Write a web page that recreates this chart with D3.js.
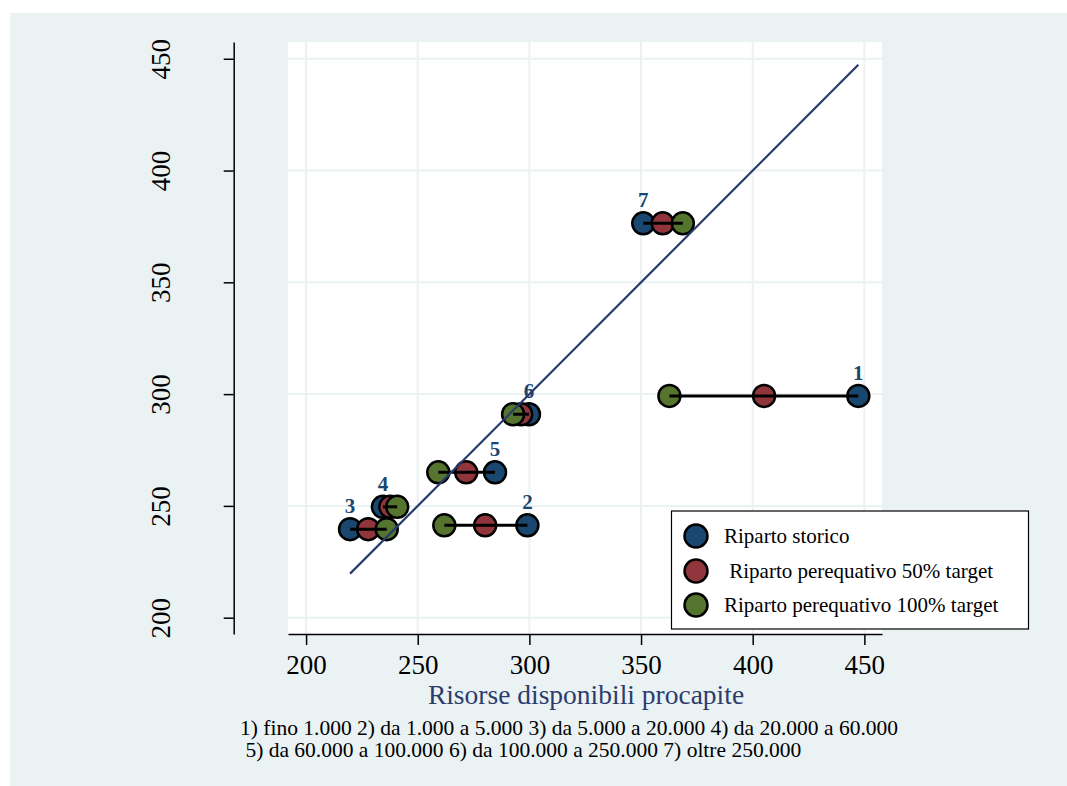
<!DOCTYPE html>
<html><head><meta charset="utf-8">
<script src="https://cdn.jsdelivr.net/npm/d3@7"></script>
<style>
html,body{margin:0;padding:0;background:#fff;}
svg{display:block;}
text{font-family:"Liberation Serif","Times New Roman",serif;}
</style></head>
<body><svg id="chart" width="1067" height="786"></svg>
<script>
// ---- data ----
const groups = ["1","2","3","4","5","6","7"];
const yValues = [299.2, 241.3, 239.6, 249.6, 265.0, 291.0, 376.4];
const storico = [447.3, 299.1, 219.7, 234.4, 284.6, 299.8, 351.0];
const pereq50 = [405.1, 280.2, 227.8, 237.7, 271.7, 296.3, 359.7];
const pereq100 = [362.7, 261.9, 236.1, 240.8, 259.2, 292.7, 368.7];
const xTicks = [200, 250, 300, 350, 400, 450];
const yTicks = [200, 250, 300, 350, 400, 450];
const seriesNames = ["Riparto storico", " Riparto perequativo 50% target", "Riparto perequativo 100% target"];
const seriesColors = ["#1a476f", "#90353b", "#55752f"];
const xTitle = "Risorse disponibili procapite";
const noteLines = ["1) fino 1.000 2) da 1.000 a 5.000 3) da 5.000 a 20.000 4) da 20.000 a 60.000",
                   " 5) da 60.000 a 100.000 6) da 100.000 a 250.000 7) oltre 250.000"];

const svg = d3.select("#chart");
const W = 1067, H = 786;
const plot = {left: 288, right: 882, top: 42, bottom: 634};

svg.append("rect").attr("x", 10).attr("y", 13).attr("width", W - 10).attr("height", H - 13).attr("fill", "#eaf2f3");
svg.append("rect").attr("x", plot.left).attr("y", plot.top)
   .attr("width", plot.right - plot.left).attr("height", plot.bottom - plot.top).attr("fill", "#fff");

const x = d3.scaleLinear().domain([191.9, 457.9]).range([plot.left, plot.right]);
const y = d3.scaleLinear().domain([192.7, 457.5]).range([plot.bottom, plot.top]);

// grid
svg.append("g").selectAll("line").data(xTicks).join("line")
  .attr("x1", d => x(d)).attr("x2", d => x(d)).attr("y1", plot.top).attr("y2", plot.bottom)
  .attr("stroke", "#eaf2f3").attr("stroke-width", 2);
svg.append("g").selectAll("line").data(yTicks).join("line")
  .attr("y1", d => y(d)).attr("y2", d => y(d)).attr("x1", plot.left).attr("x2", plot.right)
  .attr("stroke", "#eaf2f3").attr("stroke-width", 2);

// axes
const xAxis = svg.append("g").attr("transform", `translate(0,${plot.bottom})`)
  .call(d3.axisBottom(x).tickValues(xTicks).tickSize(11).tickSizeOuter(0).tickPadding(6));
xAxis.select(".domain").attr("stroke", "#000").attr("stroke-width", 1.5);
xAxis.selectAll(".tick line").attr("stroke", "#000").attr("stroke-width", 1.5);
xAxis.selectAll(".tick text").attr("font-size", 27)
  .attr("fill", "#000").attr("y", 0).attr("dy", null).attr("transform", "translate(0,40)");

const yAxis = svg.append("g").attr("transform", `translate(233.7,0)`)
  .call(d3.axisLeft(y).tickValues(yTicks).tickSize(10).tickSizeOuter(0));
yAxis.select(".domain").attr("stroke", "#000").attr("stroke-width", 1.5);
yAxis.selectAll(".tick line").attr("stroke", "#000").attr("stroke-width", 1.5);
yAxis.selectAll(".tick text").attr("font-size", 27)
  .attr("fill", "#000").attr("x", null).attr("dy", null).attr("text-anchor", "middle")
  .attr("transform", "translate(-63.7,0) rotate(-90)");

// points (storico, 50%, 100%)
const allSeries = [storico, pereq50, pereq100];
allSeries.forEach((vals, si) => {
  svg.append("g").selectAll("circle").data(vals).join("circle")
    .attr("cx", d => x(d)).attr("cy", (d, i) => y(yValues[i])).attr("r", 11)
    .attr("fill", seriesColors[si]).attr("stroke", "#000").attr("stroke-width", 2.5);
});

// spikes
svg.append("g").selectAll("line").data(groups).join("line")
  .attr("x1", (d, i) => x(Math.min(storico[i], pereq100[i])))
  .attr("x2", (d, i) => x(Math.max(storico[i], pereq100[i])))
  .attr("y1", (d, i) => y(yValues[i])).attr("y2", (d, i) => y(yValues[i]))
  .attr("stroke", "#000").attr("stroke-width", 3);

// labels
svg.append("g").selectAll("text").data(groups).join("text")
  .attr("x", (d, i) => x(storico[i])).attr("y", (d, i) => y(yValues[i]) - 16)
  .attr("text-anchor", "middle").attr("font-size", 21).attr("font-weight", "bold")
  .attr("fill", "#1a476f").text(d => d);

// 45-degree line
const allX = storico.concat(pereq50, pereq100);
const lo = d3.min(allX), hi = d3.max(allX);
svg.append("line").attr("x1", x(lo)).attr("y1", y(lo)).attr("x2", x(hi)).attr("y2", y(hi))
  .attr("stroke", "#263a6b").attr("stroke-width", 2.2);

// x title
svg.append("text").attr("x", 586).attr("y", 703.5).attr("text-anchor", "middle")
  .attr("font-size", 27.5).attr("fill", "#2c3c6c").text(xTitle);

// note
svg.append("g").selectAll("text").data(noteLines).join("text")
  .attr("x", 240).attr("y", (d, i) => 735 + i * 22)
  .attr("font-size", 21.5).attr("fill", "#000")
  .style("white-space", "pre").text(d => d);

// legend
const lg = svg.append("g");
lg.append("rect").attr("x", 671.5).attr("y", 511).attr("width", 357).attr("height", 118)
  .attr("fill", "#fff").attr("stroke", "#000").attr("stroke-width", 1.2);
const legY = [536, 571, 605];
seriesNames.forEach((name, i) => {
  lg.append("circle").attr("cx", 696).attr("cy", legY[i]).attr("r", 11.5)
    .attr("fill", seriesColors[i]).attr("stroke", "#000").attr("stroke-width", 2.5);
  lg.append("text").attr("x", 724).attr("y", legY[i] + 7).attr("font-size", 21)
    .attr("fill", "#000").style("white-space", "pre").text(name);
});
</script></body></html>
